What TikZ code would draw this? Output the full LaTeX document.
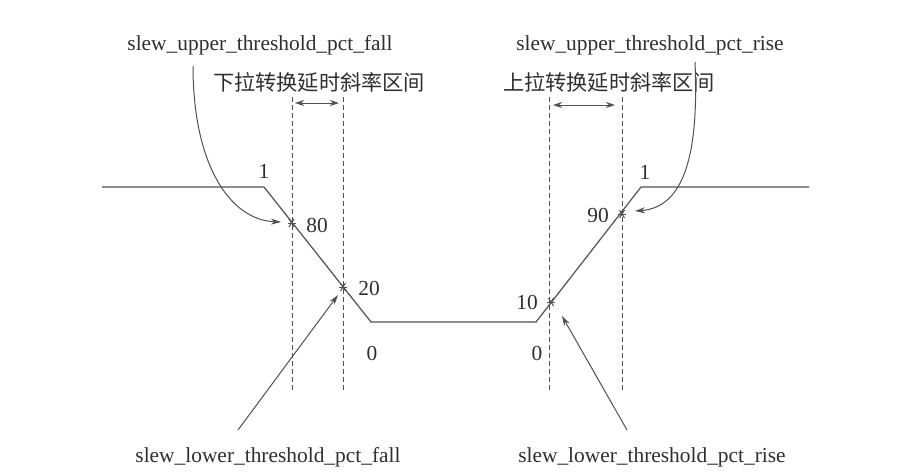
\documentclass[tikz,border=0pt]{standalone}
\usepackage{fontspec}
\setmainfont{Liberation Serif}
\newfontfamily\cjk{Noto Sans CJK SC}
\usetikzlibrary{arrows.meta}
\definecolor{ln}{HTML}{505050}
\definecolor{tx}{HTML}{2e2e2e}
\begin{document}
\begin{tikzpicture}[x=1pt,y=-1pt,
  wave/.style={draw=ln,line width=1.2pt},
  guide/.style={draw=ln,line width=1pt,dash pattern=on 5pt off 3pt},
  ptr/.style={draw=ln,line width=1pt,-{Stealth[length=10pt,width=6pt]}},
  span/.style={draw=ln,line width=1pt,{Stealth[length=9pt,width=6pt]}-{Stealth[length=9pt,width=6pt]}},
  lbl/.style={text=tx,font=\fontsize{21.4}{24}\selectfont,inner sep=0pt},
  cn/.style={text=tx,font=\cjk\fontsize{21.2}{24}\selectfont,inner sep=0pt},
  star/.style={draw=ln,line width=1pt}]
\useasboundingbox (0,0) rectangle (913,475);
% waveform
\coordinate (w0) at (102,187);
\coordinate (w1) at (264,187);
\coordinate (w2) at (371,322);
\coordinate (w3) at (536,322);
\coordinate (w4) at (641,187);
\coordinate (w5) at (809,187);
\draw[wave] (w0) -- (w1) -- (w2) -- (w3) -- (w4) -- (w5);
% threshold points
\coordinate (p80) at (291.5,223);
\coordinate (p20) at (343,287);
\coordinate (p10) at (551,302);
\coordinate (p90) at (622,214);
\foreach \p in {p80,p20,p10,p90}{
  \draw[star] ([shift={(-4,0)}]\p) -- ([shift={(4,0)}]\p);
  \draw[star] ([shift={(-2.5,-4)}]\p) -- ([shift={(2.5,4)}]\p);
  \draw[star] ([shift={(2.5,-4)}]\p) -- ([shift={(-2.5,4)}]\p);
}
% dashed guides
\foreach \x/\n in {292/a,343/b,549/c,622/d}{
  \coordinate (\n t) at (\x,97);
  \coordinate (\n b) at (\x,392);
  \draw[guide] (\n t) -- (\n b);
}
% spans
\coordinate (l1) at (295,103); \coordinate (l2) at (339,103);
\coordinate (r1) at (553,105); \coordinate (r2) at (615,105);
\draw[span] (l1) -- (l2);
\draw[span] (r1) -- (r2);
% labels
\node[lbl] (uf) at (260,45) {slew\_upper\_threshold\_pct\_fall};
\node[lbl] (ur) at (650,45) {slew\_upper\_threshold\_pct\_rise};
\node[lbl] (lf) at (268,457) {slew\_lower\_threshold\_pct\_fall};
\node[lbl] (lr) at (652,457) {slew\_lower\_threshold\_pct\_rise};
\node[cn] (cf) at (319,82) {下拉转换延时斜率区间};
\node[cn] (cr) at (609,82) {上拉转换延时斜率区间};
\node[lbl] (one1) at (264,171) {1};
\node[lbl] (one2) at (645,172) {1};
\node[lbl] (n80) at (317,225) {80};
\node[lbl] (n20) at (369,288) {20};
\node[lbl] (n10) at (527,302) {10};
\node[lbl] (n90) at (598,215) {90};
\node[lbl] (z1) at (372,353) {0};
\node[lbl] (z2) at (537,353) {0};
% pointers
\coordinate (a1) at (193,66);
\coordinate (a1e) at (281,222);
\draw[ptr] (a1) .. controls (193,165) and (230,220) .. (a1e);
\coordinate (a2) at (695,62);
\coordinate (a2e) at (635,211);
\draw[ptr] (a2) .. controls (700,175) and (675,208) .. (a2e);
\coordinate (a3) at (238,430);
\coordinate (a3e) at (338,295);
\draw[ptr] (a3) -- (a3e);
\coordinate (a4) at (627,430);
\coordinate (a4e) at (562,316);
\draw[ptr] (a4) -- (a4e);
\end{tikzpicture}
\end{document}
